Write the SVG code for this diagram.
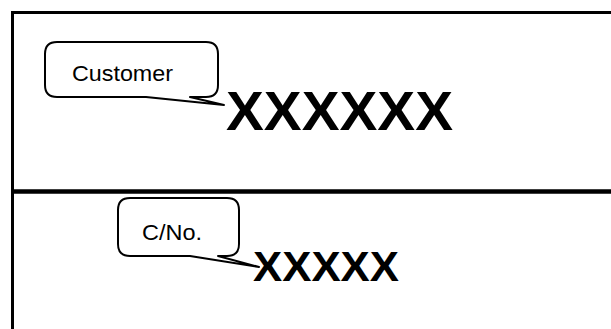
<svg xmlns="http://www.w3.org/2000/svg" width="611" height="329" viewBox="0 0 611 329">
  <style>
    .frame { fill: none; stroke: #000; stroke-width: 3; }
    .divider { stroke: #000; stroke-width: 4.5; }
    .callout { fill: #fff; stroke: #000; stroke-width: 2; stroke-linejoin: round; }
    .label { font-family: "Liberation Sans", Arial, sans-serif; fill: #000; }
    .value { font-family: "Liberation Sans", Arial, sans-serif; font-weight: bold; fill: #000; }
  </style>
  <rect width="611" height="329" fill="#fff"/>
  <g id="frame">
    <path class="frame" d="M12.5,340 V12.5 H620"/>
  </g>
  <g id="divider">
    <line class="divider" x1="12" y1="191.5" x2="611" y2="191.5"/>
  </g>
  <g id="connectors"></g>
  <g id="customer-callout">
    <path class="callout" d="M57,42 H206 Q218,42 218,54 V85 Q218,97 206,97 H190 L224,105 L146,97 H57 Q45,97 45,85 V54 Q45,42 57,42 Z"/>
    <text class="label" x="72" y="81" font-size="22" textLength="101" lengthAdjust="spacingAndGlyphs">Customer</text>
  </g>
  <g id="customer-value">
    <text class="value" x="226" y="130" font-size="56" textLength="227" lengthAdjust="spacingAndGlyphs">XXXXXX</text>
  </g>
  <g id="cno-callout">
    <path class="callout" d="M130,198 H227 Q239,198 239,210 V244 Q239,256 227,256 H218 L259,267 L190,256 H130 Q118,256 118,244 V210 Q118,198 130,198 Z"/>
    <text class="label" x="142" y="240" font-size="22" textLength="60" lengthAdjust="spacingAndGlyphs">C/No.</text>
  </g>
  <g id="cno-value">
    <text class="value" x="253" y="281" font-size="42" textLength="146" lengthAdjust="spacingAndGlyphs">XXXXX</text>
  </g>
</svg>
